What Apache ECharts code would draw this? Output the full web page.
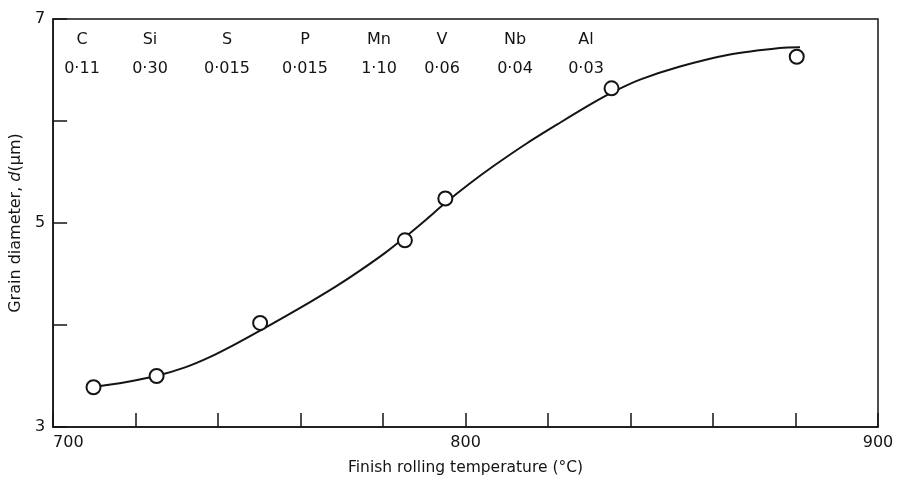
<!DOCTYPE html>
<html><head><meta charset="utf-8">
<script src="https://cdn.jsdelivr.net/npm/echarts@6/dist/echarts.min.js"></script>
<style>html,body{margin:0;padding:0;background:#fff}#c{width:898px;height:483px}</style>
</head><body><div id="c"></div>
<script>
// ---- data ----
const elements = ['C', 'Si', 'S', 'P', 'Mn', 'V', 'Nb', 'Al'];
const contents = ['0·11', '0·30', '0·015', '0·015', '1·10', '0·06', '0·04', '0·03'];
const tempMeasured = [709.8, 725.1, 750.2, 785.3, 795.1, 835.4, 880.3];
const diamMeasured = [3.39, 3.50, 4.02, 4.83, 5.24, 6.32, 6.63];
const tempCurve = [709.7, 717.5, 725.2, 732.0, 738.1, 744.1, 750.2, 756.2, 762.3, 768.4, 774.4, 780.5, 785.3, 790.2, 795.0, 801.1, 806.7, 814.9, 822.9, 830.9, 835.8, 842.3, 852.0, 864.1, 876.2, 881.1];
const diamCurve = [3.392, 3.439, 3.502, 3.584, 3.687, 3.810, 3.945, 4.082, 4.224, 4.373, 4.533, 4.707, 4.860, 5.025, 5.193, 5.389, 5.556, 5.782, 5.983, 6.177, 6.285, 6.405, 6.534, 6.652, 6.716, 6.724];
const xTickLabels = [700, 800, 900];
const yTickLabels = [3, 5, 7];

// ---- layout / style ----
const tableX = [82, 150, 227, 305, 379, 442, 515, 586];
const rowY1 = 40, rowY2 = 69;
const INK = '#141414';
const FONT = 'DejaVu Sans';

const chart = echarts.init(document.getElementById('c'), null, {renderer: 'canvas'});

const graphics = [];
elements.forEach((e, i) => {
  graphics.push({type: 'text', x: tableX[i], y: rowY1,
    style: {text: e, fill: INK, font: '16px "' + FONT + '"', textAlign: 'center', textVerticalAlign: 'middle'}});
  graphics.push({type: 'text', x: tableX[i], y: rowY2,
    style: {text: contents[i], fill: INK, font: '16px "' + FONT + '"', textAlign: 'center', textVerticalAlign: 'middle'}});
});

chart.setOption({
  backgroundColor: '#ffffff',
  animation: false,
  grid: {left: 53, right: 20, top: 19, bottom: 56, show: true, borderColor: INK, borderWidth: 1.5, containLabel: false},
  xAxis: {
    type: 'value', min: 700, max: 900, interval: 20,
    name: 'Finish rolling temperature (°C)', nameLocation: 'middle', nameGap: 33,
    nameTextStyle: {color: INK, fontFamily: FONT, fontSize: 15.5},
    axisLine: {show: true, lineStyle: {color: INK, width: 1.5}},
    axisTick: {show: true, inside: true, length: 14, lineStyle: {color: INK, width: 1.5}},
    axisLabel: {color: INK, fontFamily: FONT, fontSize: 16, margin: 8, alignMinLabel: 'left',
      formatter: v => xTickLabels.includes(v) ? String(v) : ''},
    splitLine: {show: false}
  },
  yAxis: {
    type: 'value', min: 3, max: 7, interval: 1,
    name: 'Grain diameter, {i|d}(μm)', nameLocation: 'middle', nameGap: 28, nameRotate: 90,
    nameTextStyle: {color: INK, fontFamily: FONT, fontSize: 16,
      rich: {i: {fontStyle: 'italic', fontFamily: FONT, fontSize: 16, color: INK}}},
    axisLine: {show: true, lineStyle: {color: INK, width: 1.5}},
    axisTick: {show: true, inside: true, length: 14, lineStyle: {color: INK, width: 1.5}},
    axisLabel: {color: INK, fontFamily: FONT, fontSize: 16, margin: 8,
      formatter: v => yTickLabels.includes(v) ? String(v) : ''},
    splitLine: {show: false}
  },
  graphic: graphics,
  series: [
    {
      type: 'line', name: 'fit', smooth: 0.3, showSymbol: false, symbol: 'none',
      lineStyle: {color: INK, width: 2}, z: 2,
      data: tempCurve.map((t, i) => [t, diamCurve[i]])
    },
    {
      type: 'scatter', name: 'measured', symbol: 'circle', symbolSize: 14,
      itemStyle: {color: '#ffffff', borderColor: INK, borderWidth: 2, opacity: 1}, z: 3,
      data: tempMeasured.map((t, i) => [t, diamMeasured[i]])
    }
  ]
});
</script>
</body></html>
